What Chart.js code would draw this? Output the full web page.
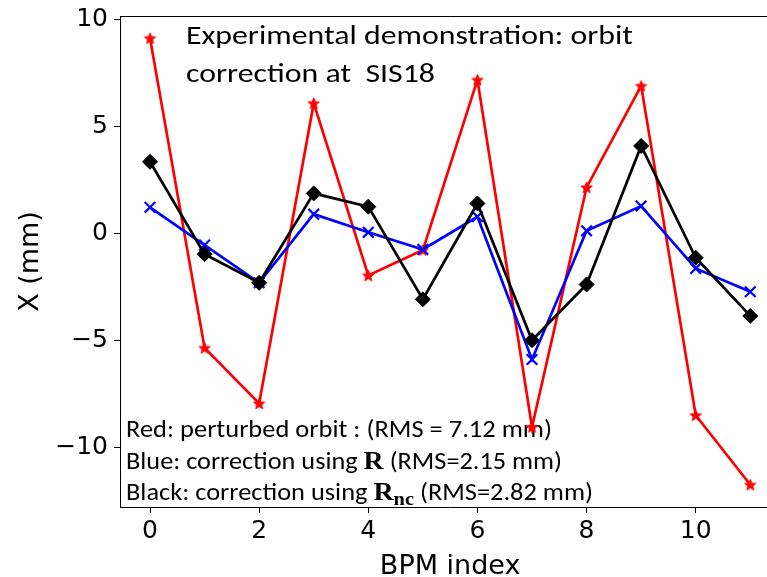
<!DOCTYPE html>
<html><head><meta charset="utf-8">
<script src="https://cdn.jsdelivr.net/npm/chart.js@4/dist/chart.umd.min.js"></script>
<style>
html,body{margin:0;padding:0;overflow:hidden;background:#fff;width:767px;height:577px}
#wrap{position:absolute;left:0;top:0;width:790px;height:577px}
</style></head><body>
<div id="wrap"><canvas id="c" width="790" height="577" style="width:790px;height:577px"></canvas></div>
<script>
// ---- data ----
const bpmIndex = [0,1,2,3,4,5,6,7,8,9,10,11];
const redPerturbed = [9.13,-5.36,-7.96,6.09,-1.97,-0.78,7.18,-9.06,2.15,6.9,-8.51,-11.76];
const blueCorrR = [1.22,-0.55,-2.31,0.9,0.05,-0.75,0.78,-5.9,0.12,1.28,-1.64,-2.73];
const blackCorrRnc = [3.35,-0.97,-2.31,1.87,1.25,-3.08,1.4,-5.0,-2.39,4.09,-1.14,-3.86];
const xTicks = [0,2,4,6,8,10];
const yTicks = [-10,-5,0,5,10];
const xTitle = "BPM index";
const yTitle = "X (mm)";
const titleLines = ["Experimental demonstration: orbit", "correction at  SIS18"];
const noteRed = ["Red: perturbed orbit : (RMS = 7.12 mm)"];
const noteBlue = ["Blue: correction using ", "R", " (RMS=2.15 mm)"];
const noteBlack = ["Black: correction using ", "R", "nc", " (RMS=2.82 mm)"];

function toPts(ys){ return bpmIndex.map((x,i)=>({x:x,y:ys[i]})); }

function starImg(r, color){
  const c=document.createElement('canvas'); const s=Math.ceil(r*2+3);
  c.width=s; c.height=s; const g=c.getContext('2d');
  g.translate(s/2,s/2+0.5); g.beginPath();
  for(let i=0;i<10;i++){ const rr=(i%2)?r*0.42:r; const a=-Math.PI/2+i*Math.PI/5; g.lineTo(rr*Math.cos(a),rr*Math.sin(a)); }
  g.closePath(); g.fillStyle=color; g.fill(); g.lineWidth=1; g.strokeStyle=color; g.stroke();
  return c;
}

const SANS = "Carlito, Lato, sans-serif";

function sizeForCap(ctx, family, cap, weight){
  ctx.font = (weight||'')+" 100px "+family;
  const m = ctx.measureText("H");
  const a = m.actualBoundingBoxAscent || 70;
  return 100*cap/a;
}

function drawRuns(ctx, runs, x, y, targetW){
  let w=0; for(const r of runs){ ctx.font=r.font; w+=ctx.measureText(r.text).width; }
  const sx = targetW ? targetW/w : 1;
  ctx.save(); ctx.translate(x,y); ctx.scale(sx,1);
  let cx=0;
  for(const r of runs){ ctx.font=r.font; ctx.fillText(r.text,cx,r.dy||0); cx+=ctx.measureText(r.text).width; }
  ctx.restore();
}

const textPlugin = {
  id:'texts',
  beforeDatasetsDraw(chart){
    const ctx=chart.ctx; const a=chart.chartArea;
    ctx.save();
    ctx.fillStyle='#000'; ctx.textBaseline='alphabetic'; ctx.textAlign='left';
    const tf = sizeForCap(ctx,SANS,17.3).toFixed(1)+"px "+SANS;
    drawRuns(ctx,[{text:titleLines[0],font:tf}],186,43.5,447);
    drawRuns(ctx,[{text:titleLines[1],font:tf}],186,81.5,249);
    const nf = sizeForCap(ctx,SANS,15.6).toFixed(1)+"px "+SANS;
    const rb = "bold "+sizeForCap(ctx,"'Liberation Serif', serif",16.5,'bold').toFixed(1)+"px 'Liberation Serif', serif";
    const sb = "bold "+sizeForCap(ctx,"'Liberation Serif', serif",12,'bold').toFixed(1)+"px 'Liberation Serif', serif";
    drawRuns(ctx,[{text:noteRed[0],font:nf}],126,437,426);
    drawRuns(ctx,[{text:noteBlue[0],font:nf},{text:noteBlue[1],font:rb},{text:noteBlue[2],font:nf}],126,468.5,436);
    drawRuns(ctx,[{text:noteBlack[0],font:nf},{text:noteBlack[1],font:rb},{text:noteBlack[2],font:sb,dy:5},{text:noteBlack[3],font:nf}],126,499.5,467);
    // top & right frame
    ctx.strokeStyle='#000'; ctx.lineWidth=1;
    ctx.beginPath(); ctx.moveTo(a.left,a.top+0.5); ctx.lineTo(a.right,a.top+0.5); ctx.lineTo(a.right,a.bottom); ctx.stroke();
    ctx.restore();
  }
};

const minusFmt = v => v<0 ? '\u2212'+Math.abs(v) : String(v);

new Chart(document.getElementById('c'),{
  type:'line',
  data:{datasets:[
    {label:'Black', data:toPts(blackCorrRnc), borderColor:'#000', backgroundColor:'#000', borderWidth:2.7,
     pointStyle:'rectRot', pointRadius:7.5, pointBorderWidth:1, pointBackgroundColor:'#000', pointBorderColor:'#000', tension:0},
    {label:'Blue', data:toPts(blueCorrR), borderColor:'#0000ff', backgroundColor:'#0000ff', borderWidth:2.7,
     pointStyle:'crossRot', pointRadius:7.5, pointBorderWidth:2.2, pointBorderColor:'#0000ff', tension:0},
    {label:'Red', data:toPts(redPerturbed), borderColor:'#ff0000', backgroundColor:'#ff0000', borderWidth:2.7,
     pointStyle:starImg(6,'#ff0000'), pointRadius:6, tension:0}
  ]},
  options:{
    responsive:false, animation:false, events:[],
    layout:{padding:{top:16,right:7,left:0,bottom:0}},
    plugins:{legend:{display:false},tooltip:{enabled:false}},
    scales:{
      x:{type:'linear', min:-0.55, max:11.55,
        afterBuildTicks:s=>{ s.ticks=xTicks.map(v=>({value:v})); },
        afterFit:s=>{ s.height=70; s.paddingLeft=0; s.paddingRight=0; },
        grid:{drawOnChartArea:false, drawTicks:true, tickLength:6, color:'#000', lineWidth:1},
        border:{display:true, color:'#000', width:1},
        ticks:{color:'#000', font:{family:'DejaVu Sans', size:25}, padding:3, maxRotation:0, autoSkip:false, callback:minusFmt},
        title:{display:true, text:xTitle, color:'#000', font:{family:'DejaVu Sans', size:27, lineHeight:1}, padding:{top:0,bottom:-3}}
      },
      y:{type:'linear', min:-12.8, max:10.17,
        afterBuildTicks:s=>{ s.ticks=yTicks.map(v=>({value:v})); },
        afterFit:s=>{ s.width=120; s.paddingTop=0; s.paddingBottom=0; },
        grid:{drawOnChartArea:false, drawTicks:true, tickLength:6, color:'#000', lineWidth:1},
        border:{display:true, color:'#000', width:1},
        ticks:{color:'#000', font:{family:'DejaVu Sans', size:25}, padding:6, autoSkip:false, callback:minusFmt},
        title:{display:true, text:yTitle, color:'#000', font:{family:'DejaVu Sans', size:27, lineHeight:1}, padding:{top:17,bottom:0}}
      }
    }
  },
  plugins:[textPlugin]
});
</script>
</body></html>
